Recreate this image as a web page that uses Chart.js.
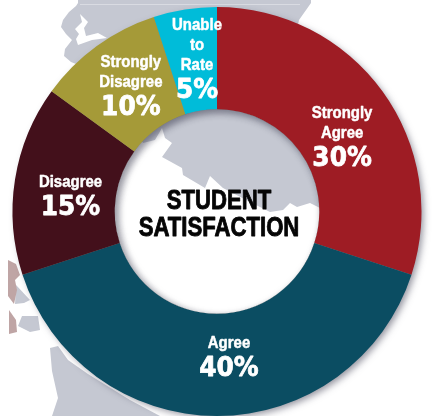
<!DOCTYPE html>
<html>
<head>
<meta charset="utf-8">
<style>
html,body{margin:0;padding:0;background:#fff;}
#wrap{position:relative;width:432px;height:416px;overflow:hidden;}
canvas{display:block;}
</style>
<script src="https://cdn.jsdelivr.net/npm/chart.js@4"></script>
</head>
<body>
<div id="wrap"><canvas id="c" width="432" height="416"></canvas></div>
<script>
const categories = [["Strongly","Agree"],["Agree"],["Disagree"],["Strongly","Disagree"],["Unable","to","Rate"]];
const values = [30,40,15,10,5];
const sliceColors = ["#9E1C24","#0B4D62","#43101B","#A59A38","#00BCD9"];
const labelNudges = [[1,14.5],[12,-9],[5,7],[4,-2],[4,-2]];
const title = ["STUDENT","SATISFACTION"];

const GRAY = "#C5C8D2", PINK = "#BFA5A5", WHITE = "#FFFFFF";
const mapShapes = [
 [GRAY,[[78,3],[76,6],[69,12],[63,20],[61,27],[66,34],[72,40],[65,49],[64,56],[71,62],[76,64],[150,60],[290,60],[299,20],[311,3],[311,0],[78,0]]],
 [WHITE,[[80,14],[88,22],[84,28],[86,36],[98,33],[107,38],[92,40],[78,45],[76,39],[79,34],[75,29],[82,22]]],
 [GRAY,[[50,348],[58,346],[68,360],[88,374],[130,400],[160,416],[52,416],[58,398],[52,371]]],
 [GRAY,[[16,285],[30,300],[24,303],[15,304]]],
 [GRAY,[[22,316],[38,316],[40,330],[30,332],[18,326]]],
 [PINK,[[8,260],[16,264],[20,275],[15,280],[17,290],[14,304],[8,296]]],
 [PINK,[[9,310],[16,320],[17,332],[9,334]]],
 [GRAY,[[143,143],[155,140],[162,128],[165,138],[172,143],[162,157],[182,168],[183,175],[205,188],[210,176],[223,188],[250,202],[270,212],[283,210],[290,203],[297,207],[310,203],[320,208],[340,180],[300,90],[180,90],[130,120]]]
];

const backdrop = {
  id:"backdrop",
  beforeDatasetsDraw(chart){
    const ctx = chart.ctx;
    const a = chart.getDatasetMeta(0).data[0];
    ctx.save();
    mapShapes.forEach(([col,pts])=>{
      ctx.fillStyle = col;
      ctx.beginPath();
      pts.forEach((p,i)=> i?ctx.lineTo(p[0],p[1]):ctx.moveTo(p[0],p[1]));
      ctx.closePath();
      ctx.fill();
    });
    ctx.strokeStyle="#D9DBE2";ctx.lineWidth=1;
    ctx.beginPath();ctx.moveTo(80,4.5);ctx.lineTo(300,4.5);ctx.stroke();
    ctx.shadowColor="rgba(60,60,80,.55)";
    ctx.shadowBlur=7;ctx.shadowOffsetX=3;ctx.shadowOffsetY=3;
    ctx.fillStyle="#888";
    ctx.beginPath();ctx.arc(a.x,a.y,a.outerRadius-1,0,Math.PI*2);
    ctx.arc(a.x,a.y,a.innerRadius+1,0,Math.PI*2,true);
    ctx.fill("evenodd");
    ctx.restore();
  }
};

function squeezed(ctx,text,x,y,sx,bulk){
  ctx.save();
  ctx.translate(x,y);
  ctx.scale(sx,1);
  if(bulk){ctx.lineWidth=bulk;ctx.lineJoin="round";ctx.strokeStyle=ctx.fillStyle;ctx.strokeText(text,0,0);}
  ctx.fillText(text,0,0);
  ctx.restore();
}

const overlay = {
  id:"overlay",
  afterDatasetsDraw(chart){
    const ctx = chart.ctx;
    const meta = chart.getDatasetMeta(0);
    const a = meta.data[0];
    ctx.save();
    ctx.beginPath();ctx.arc(a.x,a.y,a.innerRadius,0,Math.PI*2);ctx.clip();
    ctx.shadowColor="rgba(40,40,60,.6)";ctx.shadowBlur=7;ctx.shadowOffsetX=3;ctx.shadowOffsetY=3;
    ctx.strokeStyle="#777";ctx.lineWidth=2;
    ctx.beginPath();ctx.arc(a.x,a.y,a.innerRadius+1,0,Math.PI*2);ctx.stroke();
    ctx.restore();

    ctx.save();
    ctx.textAlign="center";ctx.textBaseline="alphabetic";
    meta.data.forEach((arc,i)=>{
      const c = arc.getCenterPoint();
      const lines = categories[i];
      const lh = 20, pctGap = 28;
      const h = (lines.length-1)*lh + pctGap;
      const x = c.x + labelNudges[i][0];
      const y = c.y + labelNudges[i][1] - h/2 + 6;
      ctx.fillStyle="#fff";
      ctx.font='bold 17px "Liberation Sans",sans-serif';
      lines.forEach((t,k)=> squeezed(ctx,t,x,y+k*lh,0.88,0.5));
      ctx.font='bold 27px "DejaVu Sans",sans-serif';
      squeezed(ctx,values[i]+"%",x,y+h,0.92,0.8);
    });
    ctx.fillStyle="#050505";
    ctx.font='bold 27px "Liberation Sans",sans-serif';
    squeezed(ctx,title[0],a.x+2,a.y-3,0.82,0.9);
    squeezed(ctx,title[1],a.x+2,a.y+24,0.82,0.9);
    ctx.restore();
  }
};

new Chart(document.getElementById("c"),{
  type:"doughnut",
  data:{labels:categories.map(l=>l.join(" ")),datasets:[{data:values,backgroundColor:sliceColors,borderWidth:0}]},
  options:{
    responsive:false,animation:false,cutout:"50%",
    layout:{padding:{left:12,right:10,top:7,bottom:0}},
    plugins:{legend:{display:false},tooltip:{enabled:false}}
  },
  plugins:[backdrop,overlay]
});
</script>
</body>
</html>
